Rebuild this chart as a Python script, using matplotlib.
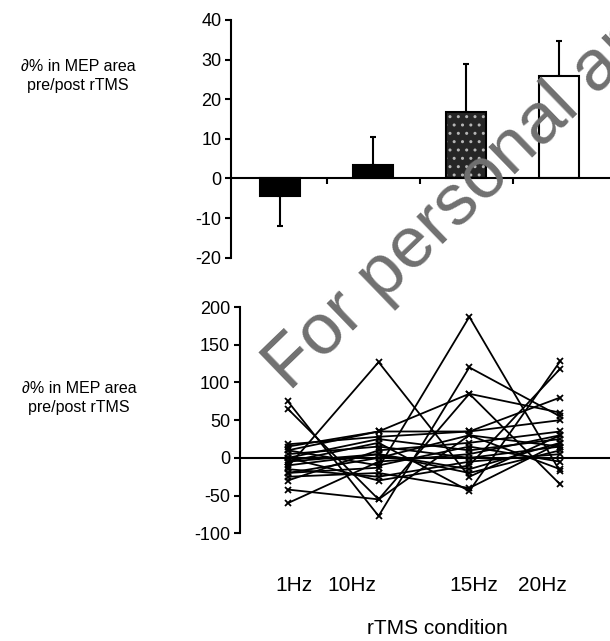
import numpy as np
import matplotlib.pyplot as plt

plt.rcParams['font.family'] = ['Liberation Sans', 'DejaVu Sans']
plt.rcParams['axes.unicode_minus'] = False

# ---- data -------------------------------------------------------------
conditions = ['1Hz', '10Hz', '15Hz', '20Hz']
mean_change = [-4.5, 3.3, 16.8, 25.8]     # mean % change in MEP area
err_change = [7.5, 7.2, 12.0, 8.8]        # one-sided error bars
bar_colors = ['black', 'black', '#262626', 'white']

# individual subjects: % change at 1, 10, 15, 20 Hz
subjects = [
    [-12, 127, -25, 30],
    [-20, -13, 187, -18],
    [75, -77, 120, 55],
    [65, -55, 85, 60],
    [15, 35, 35, 80],
    [-60, -5, 5, 30],
    [-42, -55, 30, -15],
    [-5, 20, -44, 128],
    [0, -30, -10, 118],
    [10, 35, 85, -35],
    [18, 28, 35, 50],
    [5, 15, 0, 15],
    [-10, 5, -20, 10],
    [-25, -20, -40, 20],
    [-30, 10, 20, 35],
    [-15, -25, -5, 5],
    [0, 25, 10, 25],
    [-20, 0, 30, 15],
    [10, -10, 15, -5],
    [-5, 5, -15, 20],
]

# label placement under the lower panel (data coords of lower axes)
label_pos = [0.07, 0.70, 2.05, 2.80]

# ---- figure -----------------------------------------------------------
fig = plt.figure(figsize=(6.1, 6.41), dpi=100)
x = np.arange(len(conditions))

# top panel: group means
ax1 = fig.add_axes([0.379, 0.598, 0.621, 0.371])
lower = [e if m < 0 else 0 for m, e in zip(mean_change, err_change)]
upper = [e if m >= 0 else 0 for m, e in zip(mean_change, err_change)]
for i in range(len(x)):
    if i == 2:
        # stippled bar: dark fill with light specks, then black outline
        ax1.bar(x[i], mean_change[i], width=0.43, color=bar_colors[i],
                edgecolor='#b5b5b5', hatch='..', linewidth=0, zorder=2)
        ax1.bar(x[i], mean_change[i], width=0.43, fill=False,
                edgecolor='black', linewidth=1.5, zorder=3)
    else:
        ax1.bar(x[i], mean_change[i], width=0.43, color=bar_colors[i],
                edgecolor='black', linewidth=1.5, zorder=2)
ax1.errorbar(x, mean_change, yerr=[lower, upper], fmt='none',
             ecolor='black', elinewidth=1.5, capsize=2.5, capthick=1.5, zorder=1)

ax1.set_xlim(-0.53, 3.55)
ax1.set_ylim(-20, 40)
ax1.set_yticks(np.arange(-20, 41, 10))
ax1.set_xticks([0.5, 1.5, 2.5])
ax1.set_xticklabels([])
ax1.spines['top'].set_visible(False)
ax1.spines['right'].set_visible(False)
ax1.spines['bottom'].set_position(('data', 0))
for s in ['left', 'bottom']:
    ax1.spines[s].set_linewidth(1.5)
ax1.tick_params(axis='y', direction='out', length=4, width=1.5, labelsize=13, pad=3)
ax1.tick_params(axis='x', direction='out', length=4, width=1.5)

# bottom panel: individual subjects
ax2 = fig.add_axes([0.393, 0.168, 0.607, 0.353])
for s in subjects:
    ax2.plot(x, s, color='black', linewidth=1.3, marker='x',
             markersize=5, markeredgewidth=1.3)
ax2.axhline(0, color='black', linewidth=1.5)
ax2.set_xlim(-0.53, 3.55)
ax2.set_ylim(-100, 200)
ax2.set_yticks(np.arange(-100, 201, 50))
ax2.set_xticks(label_pos, conditions)
for s in ['top', 'right', 'bottom']:
    ax2.spines[s].set_visible(False)
ax2.spines['left'].set_linewidth(1.5)
ax2.tick_params(axis='y', direction='out', length=4, width=1.5, labelsize=13, pad=3)
ax2.tick_params(axis='x', length=0, labelsize=15, pad=31)

# y-axis descriptions and x title
fig.text(0.128, 1 - 76 / 641, '∂% in MEP area\npre/post rTMS',
         ha='center', va='center', fontsize=11.5, linespacing=1.3)
fig.text(0.130, 1 - 398 / 641, '∂% in MEP area\npre/post rTMS',
         ha='center', va='center', fontsize=11.5, linespacing=1.3)
fig.text(437 / 610, 1 - 628 / 641, 'rTMS condition',
         ha='center', va='center', fontsize=15)

# scan watermark
fig.text(290 / 610, 1 - 392 / 641, 'For personal and non-commercial use only',
         rotation=44, rotation_mode='anchor', ha='left', va='baseline',
         fontsize=52, color='#707070', zorder=10, clip_on=True)

plt.savefig('out.png', dpi=100)
